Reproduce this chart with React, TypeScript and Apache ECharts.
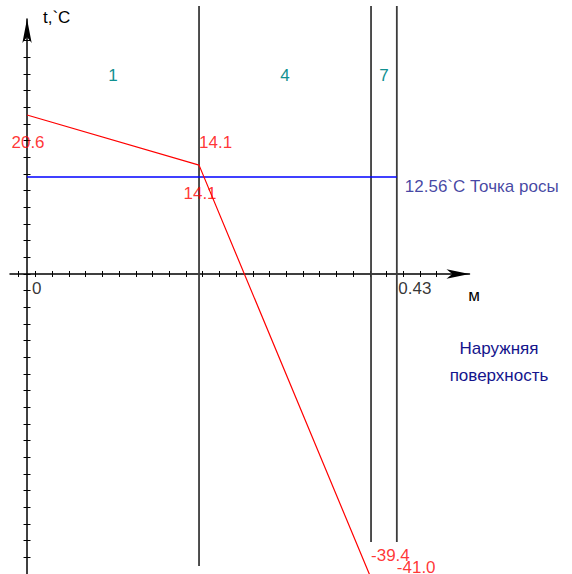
import { useEffect, useRef } from "react";
import * as echarts from "echarts";

// Wall construction: layer names and thicknesses, metres
const layerNames = ["1", "4", "7"];
const layerThickness = [0.2, 0.2, 0.03];
// Temperature at the inner surface and at each layer boundary, °C
const boundaryTemps = [20.6, 14.1, -39.4, -41.0];
// Dew point, °C
const dewPoint = 12.56;
const dewPointCaption = "Точка росы";
const outerSurfaceCaption = ["Наружняя", "поверхность"];
const tAxisTitle = "t,`C";
const xAxisTitle = "м";

const FONT = '"Liberation Sans", Arial, sans-serif';
const NAVY = "#14148c";

// Boundary coordinates, metres
const boundaries = layerThickness.reduce<number[]>(
  (acc, d) => [...acc, +(acc[acc.length - 1] + d).toFixed(4)],
  [0]
);
const totalThickness = boundaries[boundaries.length - 1];

// Axis extents (x axis starts a little left of the wall, y runs below the page)
const X_MIN = -0.0198;
const X_MAX = 0.5145;
const Y_MIN = -45;
const Y_MAX = 33.03;

// Unlabelled tick marks
const X_TICK_START = -0.00965;
const X_TICK_STEP = 0.01944;
const Y_TICK_STEP = 2.159;
const xTicks: number[] = [];
for (let k = 0; k <= 25; k++) xTicks.push(+(X_TICK_START + k * X_TICK_STEP).toFixed(5));
const yTicks: number[] = [];
for (let k = -20; k <= 14; k++) yTicks.push(+(k * Y_TICK_STEP).toFixed(4));

const lineBottoms = [566, 542, 542];

export default function App() {
  const ref = useRef<HTMLDivElement>(null);

  useEffect(() => {
    const chart = echarts.init(ref.current!, null, { renderer: "svg" });

    const tempPoints = boundaries.map((x, i) => [x, boundaryTemps[i]]);

    // Labels: start of each layer under the point, end of each layer above-right
    const labelItems: any[] = [];
    layerThickness.forEach((_, i) => {
      labelItems.push({
        value: [boundaries[i], boundaryTemps[i]],
        label: { align: "center", offset: [1, 28] },
      });
      labelItems.push({
        value: [boundaries[i + 1], boundaryTemps[i + 1]],
        label: { align: "left", offset: [0, -23] },
      });
    });

    const axisCommon = {
      type: "value" as const,
      splitLine: { show: false },
      axisLabel: { show: false },
    };

    const hiddenPoint = {
      type: "scatter",
      xAxisIndex: 0,
      yAxisIndex: 0,
      symbolSize: 1,
      itemStyle: { color: "rgba(0,0,0,0)" },
      silent: true,
      z: 5,
    };

    const option: any = {
      animation: false,
      backgroundColor: "#ffffff",
      grid: {
        left: 10,
        right: 102.5,
        top: 19,
        bottom: -47.4,
        containLabel: false,
        outerBoundsMode: "none",
      },
      xAxis: [
        {
          ...axisCommon,
          position: "bottom",
          min: X_MIN,
          max: X_MAX,
          axisLine: {
            show: true,
            onZero: true,
            onZeroAxisIndex: 0,
            symbol: ["none", "arrow"],
            symbolSize: [7, 23],
            lineStyle: { color: "#000", width: 1.5 },
          },
          axisTick: { show: true, length: 3, customValues: xTicks, lineStyle: { color: "#000", width: 1 } },
        },
        {
          ...axisCommon,
          position: "top",
          min: X_MIN,
          max: X_MAX,
          axisLine: { show: false, onZero: true, onZeroAxisIndex: 1 },
          axisTick: { show: true, length: 3, customValues: xTicks, lineStyle: { color: "#000", width: 1 } },
        },
      ],
      yAxis: [
        {
          ...axisCommon,
          position: "left",
          min: Y_MIN,
          max: Y_MAX,
          axisLine: {
            show: true,
            onZero: true,
            onZeroAxisIndex: 0,
            symbol: ["none", "arrow"],
            symbolSize: [7, 24],
            lineStyle: { color: "#000", width: 1.5 },
          },
          axisTick: { show: true, length: 3.5, customValues: yTicks, lineStyle: { color: "#000", width: 1 } },
        },
        {
          ...axisCommon,
          position: "right",
          min: Y_MIN,
          max: Y_MAX,
          axisLine: { show: false, onZero: true, onZeroAxisIndex: 1 },
          axisTick: { show: true, length: 3.5, customValues: yTicks, lineStyle: { color: "#000", width: 1 } },
        },
      ],
      graphic: [
        {
          type: "text",
          left: 43,
          top: 9,
          style: { text: tAxisTitle, fill: "#000", font: `17px ${FONT}` },
        },
        {
          type: "text",
          x: 474,
          y: 295,
          style: { text: xAxisTitle, fill: "#000", font: `17px ${FONT}`, align: "center", verticalAlign: "middle" },
        },
        {
          type: "text",
          x: 499,
          y: 348,
          style: { text: outerSurfaceCaption[0], fill: NAVY, font: `17px ${FONT}`, align: "center", verticalAlign: "middle" },
        },
        {
          type: "text",
          x: 499,
          y: 375,
          style: { text: outerSurfaceCaption[1], fill: NAVY, font: `17px ${FONT}`, align: "center", verticalAlign: "middle" },
        },
      ],
      series: [
        {
          // Layer boundaries and layer names
          type: "custom",
          xAxisIndex: 0,
          yAxisIndex: 0,
          clip: false,
          silent: true,
          data: layerNames.map((_, i) => [boundaries[i], boundaries[i + 1]]),
          renderItem: (params: any, api: any) => {
            const i = params.dataIndex;
            const xa = api.coord([api.value(0), 0])[0];
            const xb = api.coord([api.value(1), 0])[0];
            return {
              type: "group",
              children: [
                {
                  type: "line",
                  shape: { x1: xb, y1: 6, x2: xb, y2: lineBottoms[i] },
                  style: { stroke: "#3c3c3c", lineWidth: 1.8 },
                },
                {
                  type: "text",
                  style: {
                    text: layerNames[i],
                    x: (xa + xb) / 2,
                    y: 75,
                    align: "center",
                    verticalAlign: "middle",
                    fill: "#109090",
                    font: `17px ${FONT}`,
                  },
                },
              ],
            };
          },
        },
        {
          // Dew point line
          type: "line",
          xAxisIndex: 0,
          yAxisIndex: 0,
          data: [
            [0, dewPoint],
            [totalThickness, dewPoint],
          ],
          symbol: "none",
          lineStyle: { color: "#0000ff", width: 1.5 },
          z: 3,
        },
        {
          // Temperature profile through the wall
          type: "line",
          xAxisIndex: 0,
          yAxisIndex: 0,
          data: tempPoints,
          symbol: "none",
          lineStyle: { color: "#ff0000", width: 1.2 },
          z: 4,
        },
        {
          // Boundary temperature labels
          ...hiddenPoint,
          data: labelItems,
          label: {
            show: true,
            position: "inside",
            verticalAlign: "middle",
            formatter: (p: any) => (p.value[1] as number).toFixed(1),
            color: "#ff0000",
            fontFamily: FONT,
            fontSize: 17,
          },
        },
        {
          // Dew point caption
          ...hiddenPoint,
          data: [[totalThickness, dewPoint]],
          label: {
            show: true,
            position: "inside",
            align: "left",
            verticalAlign: "middle",
            offset: [8, 9.5],
            formatter: (p: any) => `${p.value[1]}\`C ${dewPointCaption}`,
            color: NAVY,
            fontFamily: FONT,
            fontSize: 17,
          },
        },
        {
          // Inner and outer surface coordinates on the x axis
          ...hiddenPoint,
          data: [
            { value: [0, 0], label: { offset: [5, 15] } },
            { value: [totalThickness, 0], label: { offset: [1.5, 15] } },
          ],
          label: {
            show: true,
            position: "inside",
            align: "left",
            verticalAlign: "middle",
            formatter: (p: any) => String(+(p.value[0] as number).toFixed(2)),
            color: "#000",
            fontFamily: FONT,
            fontSize: 17,
          },
        },
      ],
    };

    chart.setOption(option);
    return () => chart.dispose();
  }, []);

  return (
    <div
      ref={ref}
      style={{ position: "fixed", left: 0, top: 0, width: 572, height: 574, background: "#fff" }}
    />
  );
}
